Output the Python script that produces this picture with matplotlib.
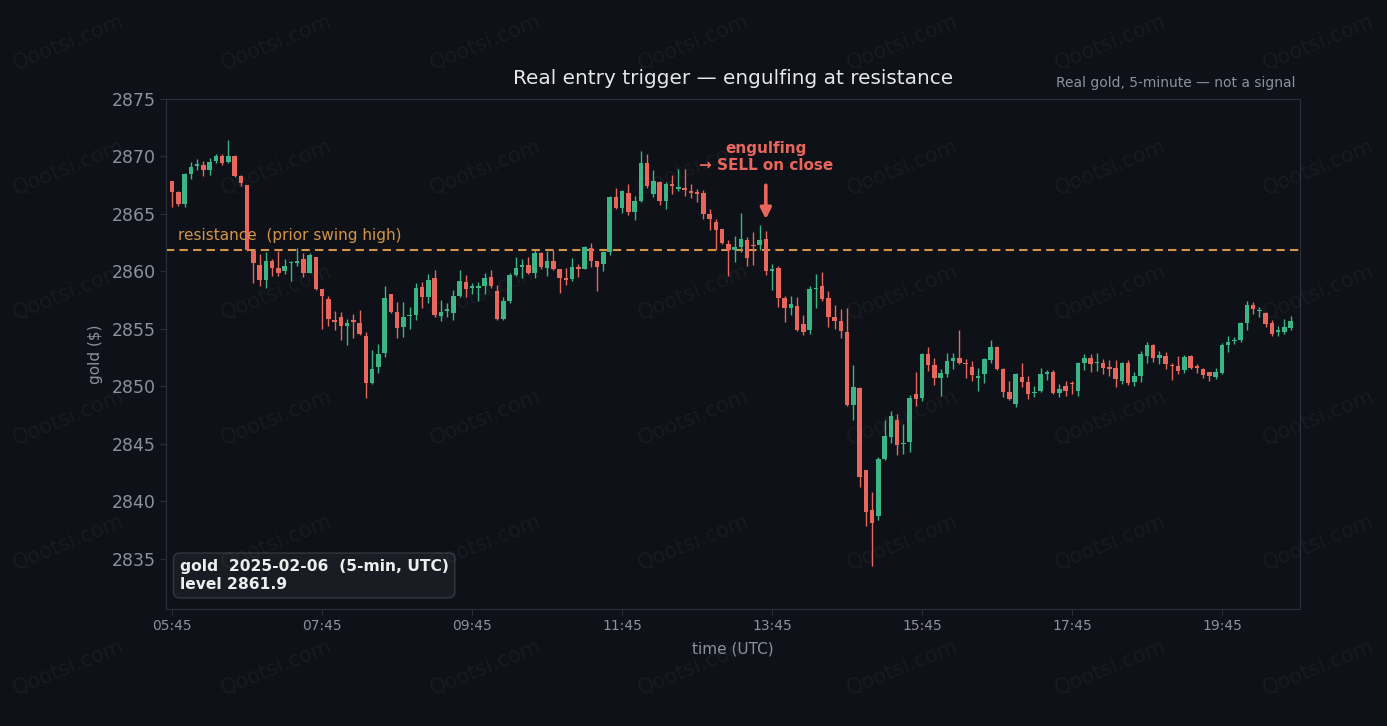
import matplotlib
matplotlib.use("Agg")
import matplotlib.pyplot as plt
import numpy as np

# 5-minute gold candles, 2025-02-06 05:45 -> 20:40 UTC
opens = [
    2867.9, 2866.9, 2865.9, 2868.5, 2869.2, 2869.3, 2868.8, 2869.6, 2870.0, 2869.5,
    2870.0, 2868.3, 2867.5, 2861.8, 2860.6, 2859.3, 2860.9, 2860.3, 2860.0, 2860.7,
    2860.7, 2861.1, 2859.9, 2861.3, 2858.5, 2857.6, 2855.75, 2856.0, 2855.3, 2855.8,
    2855.55, 2854.4, 2850.3, 2851.7, 2852.9, 2858.0, 2856.5, 2855.2, 2856.1, 2856.25,
    2858.65, 2857.8, 2859.4, 2856.1, 2856.6, 2856.4, 2857.9, 2859.1, 2858.6, 2858.55,
    2858.75, 2859.5, 2858.3, 2855.85, 2857.4, 2859.7, 2860.4, 2860.55, 2859.85, 2861.6,
    2860.3, 2860.9, 2860.25, 2859.4, 2859.35, 2860.4, 2860.25, 2862.05, 2860.95, 2860.65,
    2861.7, 2866.45, 2865.55, 2866.8, 2865.2, 2866.1, 2869.45, 2866.75, 2867.8, 2866.1,
    2867.6, 2867.2, 2867.3, 2867.0, 2866.9, 2866.85, 2865.0, 2864.3, 2863.7, 2862.4,
    2861.9, 2862.15, 2862.7, 2862.3, 2862.3, 2862.85, 2860.0, 2860.3, 2857.7, 2856.85,
    2857.0, 2855.45, 2854.9, 2858.45, 2858.7, 2857.7, 2856.05, 2855.7, 2854.7, 2848.4,
    2849.9, 2842.7, 2839.25, 2838.7, 2843.7, 2845.6, 2847.1, 2845.0, 2845.15, 2849.35,
    2849.0, 2852.85, 2851.9, 2850.7, 2851.1, 2852.2, 2852.5, 2852.05, 2851.7, 2850.75,
    2851.05, 2852.3, 2853.45, 2851.55, 2849.5, 2848.5, 2850.85, 2850.35, 2849.4, 2849.65,
    2851.1, 2851.3, 2849.45, 2850.0, 2850.3, 2849.6, 2852.05, 2852.5, 2852.0, 2852.05,
    2851.65, 2851.6, 2850.45, 2852.05, 2850.4, 2850.9, 2852.65, 2853.6, 2852.45, 2852.65,
    2851.85, 2851.8, 2851.45, 2852.65, 2851.75, 2851.5, 2851.25, 2850.8, 2851.2, 2853.6,
    2853.95, 2854.0, 2855.5, 2857.05, 2856.55, 2856.4, 2855.5, 2854.75, 2854.75, 2855.1,
]
highs = [
    2867.9, 2867.0, 2868.6, 2869.5, 2869.8, 2869.6, 2869.9, 2870.2, 2870.2, 2871.4,
    2870.1, 2868.4, 2867.5, 2861.8, 2861.5, 2861.7, 2861.1, 2861.8, 2861.1, 2860.9,
    2862.0, 2861.6, 2861.6, 2861.3, 2858.5, 2857.9, 2856.6, 2856.5, 2855.9, 2856.3,
    2856.65, 2854.7, 2853.2, 2853.7, 2858.7, 2858.0, 2857.35, 2857.35, 2856.9, 2859.0,
    2859.1, 2859.8, 2860.1, 2857.5, 2857.3, 2858.4, 2860.1, 2859.7, 2859.0, 2859.1,
    2859.85, 2860.1, 2858.8, 2857.8, 2859.85, 2861.3, 2861.05, 2861.25, 2861.9, 2861.7,
    2861.75, 2861.85, 2860.25, 2860.3, 2861.15, 2860.65, 2862.2, 2862.45, 2860.95, 2861.8,
    2866.6, 2867.25, 2867.1, 2867.6, 2866.55, 2870.45, 2870.2, 2868.8, 2867.9, 2867.75,
    2868.4, 2868.9, 2868.95, 2867.6, 2867.15, 2867.1, 2865.4, 2864.6, 2863.7, 2862.75,
    2863.1, 2865.1, 2863.0, 2863.4, 2864.0, 2863.5, 2860.65, 2860.5, 2857.9, 2857.9,
    2857.75, 2856.2, 2858.7, 2859.8, 2859.95, 2858.3, 2857.1, 2856.7, 2856.85, 2851.9,
    2849.95, 2842.7, 2840.8, 2843.85, 2847.1, 2847.9, 2847.6, 2846.75, 2849.25, 2851.25,
    2852.95, 2853.4, 2852.45, 2851.5, 2852.95, 2852.9, 2854.9, 2852.35, 2852.25, 2851.65,
    2852.5, 2854.05, 2853.5, 2851.65, 2850.5, 2851.2, 2852.0, 2850.95, 2850.05, 2851.6,
    2851.45, 2851.45, 2850.2, 2850.5, 2850.5, 2852.15, 2852.85, 2852.85, 2852.9, 2852.35,
    2852.3, 2852.3, 2852.15, 2852.3, 2851.25, 2853.1, 2853.85, 2853.7, 2853.1, 2853.0,
    2852.0, 2852.65, 2852.7, 2852.75, 2851.95, 2851.6, 2851.3, 2851.65, 2853.75, 2854.4,
    2854.3, 2855.6, 2857.45, 2857.35, 2856.95, 2856.5, 2855.8, 2855.25, 2855.9, 2856.15,
]
lows = [
    2865.6, 2865.7, 2865.6, 2868.0, 2868.8, 2868.3, 2868.4, 2869.4, 2869.3, 2869.4,
    2868.2, 2867.4, 2861.8, 2859.0, 2858.7, 2858.6, 2859.6, 2859.6, 2859.8, 2859.2,
    2860.5, 2859.5, 2859.9, 2858.4, 2855.0, 2855.3, 2854.9, 2854.0, 2853.6, 2854.2,
    2854.5, 2849.0, 2850.2, 2851.2, 2852.6, 2856.35, 2854.2, 2854.3, 2855.0, 2855.8,
    2856.8, 2857.3, 2856.0, 2855.7, 2856.0, 2855.8, 2857.8, 2857.8, 2858.0, 2857.4,
    2858.0, 2858.6, 2855.8, 2855.8, 2857.3, 2859.6, 2859.4, 2859.8, 2859.45, 2860.25,
    2859.6, 2860.1, 2858.1, 2858.8, 2859.2, 2859.5, 2860.2, 2860.4, 2858.3, 2860.05,
    2861.4, 2865.45, 2865.05, 2864.95, 2864.5, 2866.05, 2867.3, 2866.5, 2865.75, 2865.45,
    2866.7, 2867.0, 2866.6, 2866.4, 2866.0, 2864.6, 2863.6, 2861.9, 2862.35, 2859.6,
    2860.8, 2861.7, 2860.5, 2860.55, 2861.9, 2859.7, 2858.35, 2856.95, 2855.65, 2856.2,
    2854.85, 2854.5, 2854.55, 2856.8, 2857.45, 2855.2, 2855.0, 2854.2, 2848.3, 2847.1,
    2841.3, 2837.9, 2834.35, 2838.35, 2843.6, 2845.1, 2844.05, 2844.1, 2844.3, 2848.3,
    2848.75, 2851.35, 2850.15, 2849.2, 2850.85, 2851.55, 2851.95, 2850.75, 2850.5, 2849.65,
    2850.3, 2852.05, 2851.45, 2849.1, 2848.85, 2848.25, 2849.95, 2848.95, 2849.1, 2849.5,
    2850.6, 2849.35, 2849.1, 2849.15, 2849.35, 2849.2, 2851.45, 2851.25, 2851.35, 2851.1,
    2850.9, 2849.95, 2850.25, 2850.15, 2850.05, 2850.4, 2852.05, 2852.15, 2851.95, 2851.55,
    2850.55, 2851.1, 2851.2, 2851.5, 2851.2, 2850.75, 2850.5, 2850.65, 2851.1, 2853.0,
    2853.7, 2853.85, 2854.9, 2856.3, 2856.0, 2855.2, 2854.35, 2854.4, 2854.55, 2854.9,
]
closes = [
    2866.9, 2865.9, 2868.5, 2869.1, 2869.3, 2868.8, 2869.5, 2870.0, 2869.4, 2870.0,
    2868.3, 2867.7, 2861.9, 2860.7, 2859.3, 2860.9, 2860.3, 2859.9, 2860.5, 2860.8,
    2860.9, 2859.9, 2861.4, 2858.5, 2857.9, 2855.9, 2855.65, 2855.3, 2855.5, 2855.6,
    2854.6, 2850.3, 2851.5, 2852.8, 2857.7, 2856.5, 2855.1, 2856.0, 2856.25, 2858.6,
    2857.8, 2859.3, 2856.2, 2856.5, 2856.7, 2857.9, 2859.2, 2858.5, 2858.7, 2858.75,
    2859.4, 2858.75, 2855.85, 2857.45, 2859.7, 2860.3, 2860.55, 2859.85, 2861.65, 2860.35,
    2860.9, 2860.25, 2859.4, 2859.3, 2860.4, 2860.25, 2862.1, 2860.95, 2860.35, 2861.7,
    2866.45, 2865.5, 2867.0, 2865.2, 2866.1, 2869.45, 2867.4, 2867.9, 2866.15, 2867.6,
    2867.4, 2867.3, 2867.05, 2866.85, 2866.75, 2865.0, 2864.6, 2863.6, 2862.45, 2861.85,
    2862.1, 2862.85, 2861.2, 2862.2, 2862.75, 2860.0, 2860.2, 2857.7, 2856.85, 2857.15,
    2854.95, 2854.7, 2858.5, 2858.55, 2857.6, 2856.05, 2855.7, 2854.85, 2848.4, 2849.95,
    2842.15, 2839.05, 2838.15, 2843.7, 2845.7, 2847.4, 2844.9, 2845.1, 2849.0, 2848.9,
    2852.85, 2851.9, 2850.7, 2851.2, 2852.2, 2852.5, 2852.0, 2851.95, 2851.0, 2850.85,
    2852.35, 2853.4, 2851.5, 2849.55, 2848.9, 2851.1, 2850.35, 2849.35, 2849.5, 2851.1,
    2851.3, 2849.4, 2849.8, 2849.6, 2850.2, 2852.05, 2852.5, 2851.95, 2852.1, 2851.6,
    2851.55, 2850.65, 2852.05, 2850.3, 2850.9, 2852.85, 2853.6, 2852.45, 2852.75, 2851.95,
    2851.75, 2851.35, 2852.6, 2851.65, 2851.65, 2851.0, 2850.9, 2851.25, 2853.6, 2853.9,
    2854.05, 2855.5, 2857.1, 2856.7, 2856.65, 2855.45, 2854.55, 2854.85, 2855.2, 2855.7,
]

tick_pos = [0, 24, 48, 72, 96, 120, 144, 168]
tick_labels = ["05:45", "07:45", "09:45", "11:45", "13:45", "15:45", "17:45", "19:45"]
y_ticks = [2835, 2840, 2845, 2850, 2855, 2860, 2865, 2870, 2875]

resistance = 2861.9
trigger_idx = 95

BG = "#0e1117"
UP = "#3bb585"
DOWN = "#e8665c"
GRID_EDGE = "#2b2f37"
MUTED = "#8b929c"
ORANGE = "#d4944a"


def add_watermarks(fig):
    xs = [68, 276, 485, 693, 902, 1110, 1318]
    ys = [42, 167, 292, 417, 542, 667]
    for y in ys:
        for x in xs:
            fig.text(x / 1387, 1 - y / 726, "Qootsi.com", fontsize=15, color="#ffffff",
                     alpha=0.045, rotation=22, ha="center", va="center", zorder=10)


def plot_candles(ax):
    o = np.array(opens)
    h = np.array(highs)
    l = np.array(lows)
    c = np.array(closes)
    x = np.arange(len(o))
    colors = [UP if cc >= oo else DOWN for oo, cc in zip(o, c)]

    ax.vlines(x, l, h, colors=colors, linewidth=1.0, zorder=2)
    bottom = np.minimum(o, c)
    height = np.maximum(np.abs(c - o), 0.12)
    ax.bar(x, height, bottom=bottom, width=0.72, color=colors, linewidth=0, zorder=3)


fig = plt.figure(figsize=(13.87, 7.26), dpi=100, facecolor=BG)
ax = fig.add_axes([166 / 1387, 1 - 609 / 726, (1300 - 166) / 1387, (609 - 99) / 726])
ax.set_facecolor(BG)

plot_candles(ax)

ax.axhline(resistance, color=ORANGE, linestyle=(0, (4, 2.5)), linewidth=1.5, zorder=1)
ax.text(1, resistance + 0.6, "resistance  (prior swing high)", color=ORANGE,
        fontsize=11, ha="left", va="bottom")

ax.text(trigger_idx, 2868.6, "engulfing\n→ SELL on close", color=DOWN, fontsize=11,
        fontweight="bold", ha="center", va="bottom", linespacing=1.15)
ax.annotate("", xy=(trigger_idx, 2864.55), xytext=(trigger_idx, 2867.5),
            arrowprops=dict(arrowstyle="-|>", color=DOWN, lw=2.6, mutation_scale=16,
                            shrinkA=0, shrinkB=0))

ax.text(0.012, 0.034, "gold  2025-02-06  (5-min, UTC)\nlevel 2861.9", transform=ax.transAxes,
        fontsize=11.2, fontweight="bold", color="#eeeeee", ha="left", va="bottom",
        linespacing=1.2,
        bbox=dict(boxstyle="round,pad=0.4", facecolor="#191c22", edgecolor="#33373f", lw=1))

ax.set_xlim(-1, 180.5)
ax.set_ylim(2830.65, 2875.0)
ax.set_xticks(tick_pos)
ax.set_xticklabels(tick_labels)
ax.set_yticks(y_ticks)

ax.tick_params(axis="x", colors=MUTED, labelsize=10, length=4, color=GRID_EDGE)
ax.tick_params(axis="y", colors=MUTED, labelsize=12.5, length=4, color=GRID_EDGE)
for spine in ax.spines.values():
    spine.set_color(GRID_EDGE)

ax.set_xlabel("time (UTC)", color=MUTED, fontsize=11, labelpad=6)
ax.set_ylabel("gold ($)", color=MUTED, fontsize=11, labelpad=6)
ax.set_title("Real entry trigger — engulfing at resistance", color="#e8e8e8",
             fontsize=14.4, pad=11)
ax.text(0.996, 1.017, "Real gold, 5-minute — not a signal", transform=ax.transAxes,
        color=MUTED, fontsize=10, ha="right", va="bottom")

add_watermarks(fig)

fig.savefig("out.png", dpi=100, facecolor=BG)
